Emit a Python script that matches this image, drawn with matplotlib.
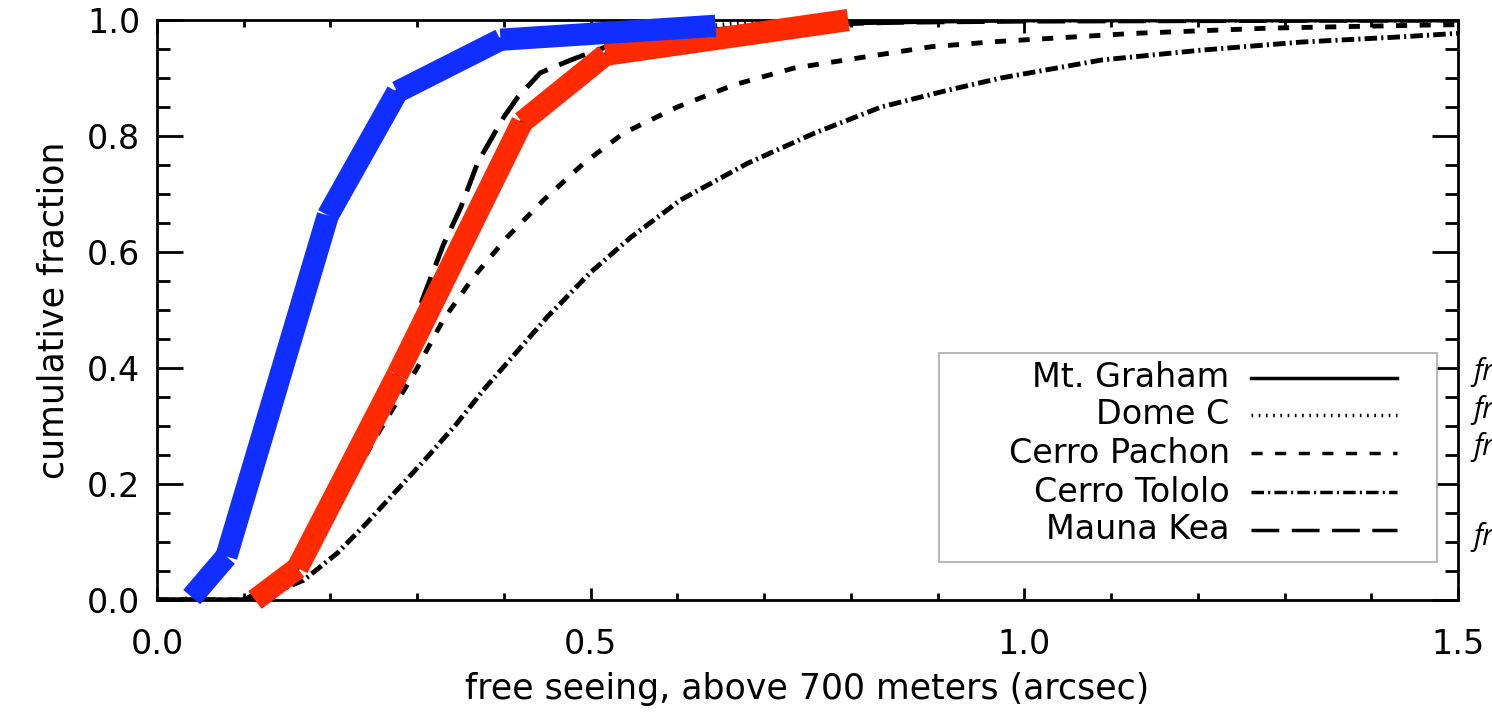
#!/usr/bin/env python3

import matplotlib
matplotlib.use("Agg")
import matplotlib.pyplot as plt
from matplotlib.patches import Rectangle

# data (free seeing in arcsec, cumulative fraction)
mtgraham_x = [0.0, 0.10, 0.113, 0.162, 0.277, 0.421, 0.517, 0.60, 0.70, 0.80, 0.90, 1.0, 1.5]
mtgraham_y = [0.0, 0.0, 0.0, 0.055, 0.388, 0.824, 0.94, 0.965, 0.985, 0.995, 0.998, 1.0, 1.0]

domec_x = [0.0, 0.03, 0.04, 0.08, 0.197, 0.277, 0.396, 0.644, 0.70, 1.0, 1.5]
domec_y = [0.0, 0.0, 0.005, 0.075, 0.663, 0.876, 0.966, 0.99, 1.0, 1.0, 1.0]

pachon_x = [0.0, 0.10, 0.15, 0.20, 0.25, 0.30, 0.33, 0.365, 0.404, 0.446, 0.492, 0.538,
            0.600, 0.665, 0.734, 0.815, 0.893, 0.970, 1.127, 1.282, 1.455, 1.5]
pachon_y = [0.0, 0.0, 0.03, 0.14, 0.275, 0.40, 0.483, 0.557, 0.626, 0.690, 0.753, 0.805,
            0.850, 0.888, 0.917, 0.936, 0.954, 0.963, 0.977, 0.986, 0.991, 0.992]

tololo_x = [0.0, 0.10, 0.13, 0.169, 0.208, 0.242, 0.277, 0.312, 0.346, 0.378, 0.45, 0.50,
            0.546, 0.604, 0.681, 0.758, 0.835, 0.912, 0.973, 1.089, 1.204, 1.320, 1.435, 1.5]
tololo_y = [0.0, 0.0, 0.01, 0.034, 0.081, 0.133, 0.190, 0.247, 0.305, 0.365, 0.488, 0.565,
            0.625, 0.69, 0.753, 0.805, 0.850, 0.879, 0.900, 0.931, 0.948, 0.962, 0.971, 0.977]

maunakea_x = [0.0, 0.10, 0.15, 0.20, 0.25, 0.28, 0.304, 0.33, 0.35, 0.37, 0.40, 0.416,
              0.442, 0.477, 0.52, 0.60, 0.70, 0.85, 1.0, 1.5]
maunakea_y = [0.0, 0.0, 0.04, 0.14, 0.28, 0.40, 0.51, 0.612, 0.676, 0.755, 0.833, 0.867,
              0.909, 0.931, 0.955, 0.978, 0.99, 0.996, 0.998, 1.0]

# hand drawn overlays
blue_x = [0.04, 0.08, 0.197, 0.277, 0.396, 0.644]
blue_y = [0.005, 0.075, 0.663, 0.876, 0.966, 0.990]
red_x = [0.113, 0.162, 0.277, 0.421, 0.517, 0.797]
red_y = [0.0, 0.055, 0.388, 0.824, 0.94, 1.0]

site_names = ["Mt. Graham", "Dome C", "Cerro Pachon", "Cerro Tololo", "Mauna Kea"]
site_styles = ["-", (0, (1.2, 4.0)), (0, (8, 9)), (0, (9, 3, 1.5, 3)), (0, (20, 9))]

x_ticks = [0.0, 0.5, 1.0, 1.5]
y_ticks = [0.0, 0.2, 0.4, 0.6, 0.8, 1.0]


def segments(ax, xs, ys, color):
    # each stretch drawn on its own, butt ends, like the original marker-pen look
    for i in range(len(xs) - 1):
        ax.plot(xs[i:i + 2], ys[i:i + 2], color=color, lw=16,
                solid_capstyle="butt", clip_on=False, zorder=4)


def main():
    plt.rcParams["font.family"] = "DejaVu Sans"
    plt.rcParams["lines.scale_dashes"] = False

    fig = plt.figure(figsize=(14.92, 7.15), dpi=100)
    ax = fig.add_axes([157 / 1492, 1 - 600 / 715, (1458 - 157) / 1492, 580 / 715])

    curves = [(mtgraham_x, mtgraham_y), (domec_x, domec_y), (pachon_x, pachon_y),
              (tololo_x, tololo_y), (maunakea_x, maunakea_y)]
    for (cx, cy), ls in zip(curves, site_styles):
        ax.plot(cx, cy, color="black", lw=3.5, linestyle=ls, zorder=2)

    segments(ax, red_x, red_y, "#FF2A00")
    segments(ax, blue_x, blue_y, "#0F2EFF")

    ax.set_xlim(0, 1.5)
    ax.set_ylim(0, 1.0)
    ax.set_xticks(x_ticks)
    ax.set_xticklabels(["%.1f" % v for v in x_ticks])
    ax.set_yticks(y_ticks)
    ax.set_yticklabels(["%.1f" % v for v in y_ticks])
    ax.set_xticks([i / 10 for i in range(16)], minor=True)
    ax.set_yticks([i / 20 for i in range(21)], minor=True)

    ax.tick_params(axis="both", which="both", direction="in", top=True, right=True,
                   width=2, labelsize=24)
    ax.tick_params(axis="x", which="major", length=9, pad=20)
    ax.tick_params(axis="x", which="minor", length=5)
    ax.tick_params(axis="y", which="major", length=19, pad=12)
    ax.tick_params(axis="y", which="minor", length=9.5)
    for sp in ax.spines.values():
        sp.set_linewidth(2)

    ax.set_xlabel("free seeing, above 700 meters (arcsec)", fontsize=25, labelpad=8)
    ax.set_ylabel("cumulative fraction", fontsize=25, labelpad=12)

    # legend drawn by hand: names right aligned, line samples on the right
    ax.add_patch(Rectangle((0.601, 0.066), 0.383, 0.36, transform=ax.transAxes,
                           facecolor="white", edgecolor="#aaaaaa", lw=1.2, zorder=5))
    rows = [0.383, 0.319, 0.253, 0.186, 0.121]
    for name, ls, ry in zip(site_names, site_styles, rows):
        ax.text(0.8245, ry, name, transform=ax.transAxes, ha="right", va="center",
                fontsize=24, zorder=6)
        ax.plot([0.841, 0.953], [ry, ry], transform=ax.transAxes, color="black",
                lw=2.5, linestyle=ls, zorder=6)

    # side notes, cut off by the page edge as in the source
    note_rows = [0.393, 0.328, 0.264, 0.109]
    for r in note_rows:
        ax.text(1.012, r, "from", transform=ax.transAxes, ha="left", va="center",
                fontsize=21, family="Open Sans", style="italic", clip_on=False)

    fig.savefig("out.png", dpi=100)


if __name__ == "__main__":
    main()
